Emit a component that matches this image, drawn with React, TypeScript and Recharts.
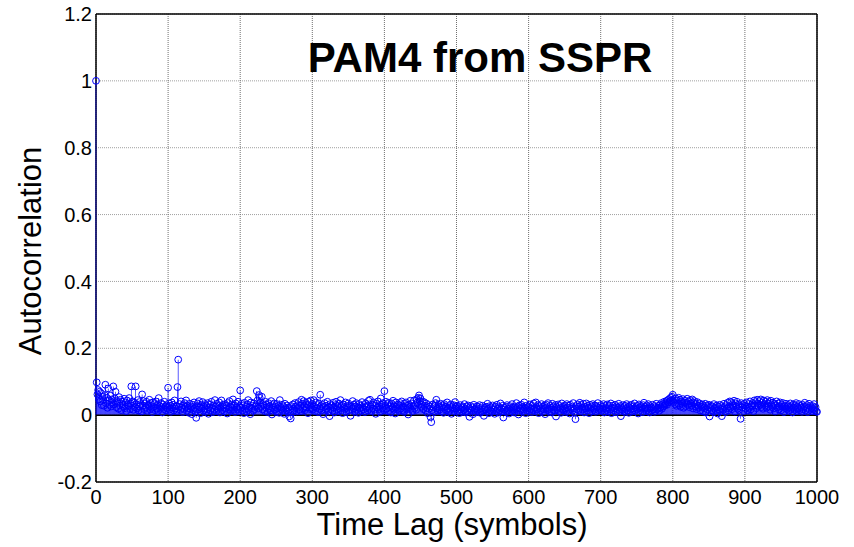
import React from "react";
import {
  ComposedChart,
  Bar,
  Scatter,
  XAxis,
  YAxis,
  CartesianGrid,
  ReferenceLine,
  Customized,
} from "recharts";

// Autocorrelation values in thousandths, 100 lags per block (last block holds 101)
const lags000 = [
  1000, 98, 62, 75, 48, 70, 41, 66, 30, 55,
  45, 28, 60, 91, 35, 52, 22, 80, 44, 31,
  58, 26, 47, 38, 86, 33, 50, 70, 24, 42,
  36, 19, 54, 29, 46, 15, 40, 33, 25, 49,
  21, 38, 12, 44, 30, 27, 51, 18, 35, 86,
  28, 41, 16, 37, 24, 86, 32, 20, 45, 14,
  39, 26, 33, 11, 62, 29, 42, 18, 35, 23,
  40, 13, 31, 27, 46, 17, 36, 22, 9, 38,
  25, 33, 15, 41, 20, 30, 12, 51, 27, 19,
  36, 24, 8, 32, 18, 40, 26, 14, 29, 21,
];
const lags100 = [
  82, 35, 17, 28, 10, 38, 23, 31, 14, 44,
  20, 27, 12, 84, 166, 25, 33, 16, 41, 22,
  9, 30, 19, 36, 24, 44, 13, 28, 21, 7,
  34, 18, 26, 3, 31, 15, 38, 22, 11, -8,
  27, 35, 17, 42, 24, 6, 30, 20, 39, 13,
  25, 33, 10, 28, 18, 36, 4, 23, 31, 14,
  40, 21, 9, 29, 17, 45, 26, 12, 34, 19,
  27, 38, 8, 22, 44, 15, 30, 24, 11, 33,
  20, 28, 5, 36, 17, 42, 25, 13, 31, 22,
  47, 16, 29, 9, 35, 24, 18, 40, 12, 27,
];
const lags200 = [
  74, 22, 34, 14, 29, 6, 37, 19, 26, 11,
  32, 45, 16, 24, 3, 38, 21, 28, 13, 35,
  18, 26, 30, 72, 44, 20, 60, 52, 38, 25,
  55, 17, 33, 29, 12, 40, 23, 31, 9, 36,
  19, 27, 14, 42, 2, 30, 22, 35, 16, 25,
  11, 33, 20, 28, 7, 45, 24, 18, 31, 13,
  26, 4, 34, 21, 15, 29, 10, 23, -4, 18,
  -10, 27, 8, 32, 19, 14, 36, 25, 11, 29,
  22, 39, 16, 28, 12, 46, 34, 20, 42, 26,
  15, 37, 23, 31, 6, 40, 28, 18, 44, 21,
];
const lags300 = [
  33, 17, 45, 26, 12, 38, 22, 30, 9, 35,
  19, 61, 27, 14, 31, 3, 24, 36, 16, 28,
  20, 40, 11, 25, -3, 33, 18, 29, 13, 37,
  23, 8, 30, 40, 17, 26, 12, 34, 21, 45,
  15, 28, 6, 32, 24, 19, 38, 10, 27, 22,
  35, 14, 29, -2, 25, 18, 42, 21, 31, 11,
  26, 36, 16, 23, 7, 33, 20, 28, 13, 39,
  24, 17, 30, 9, 35, 22, 27, 14, 43, 19,
  46, 25, 12, 32, 20, 38, 16, 29, 4, 34,
  23, 41, 18, 27, 10, 50, 31, 21, 36, 15,
];
const lags400 = [
  72, 28, 40, 19, 33, 12, 37, 24, 30, 8,
  35, 21, 43, 16, 27, 5, 38, 25, 18, 32,
  13, 29, 36, 20, 41, 15, 26, 10, 34, 22,
  38, 17, 28, 2, 31, 24, 43, 19, 35, 12,
  27, 44, 21, 30, 16, 48, 38, 52, 59, 42,
  50, 33, 25, 40, 18, 39, 28, 14, 35, 22,
  6, 30, 19, 26, -6, -21, 15, 32, 24, 9,
  28, 36, 46, 20, 13, 31, 25, 17, 34, 11,
  23, 29, 7, 33, 18, 26, 14, 38, 21, 10,
  27, 16, 32, 4, 24, 19, 30, 12, 39, 25,
];
const lags500 = [
  20, 28, 13, 24, 6, 30, 17, 22, 10, 26,
  15, 33, 19, 8, 25, 12, 29, 21, -5, 18,
  27, 14, 23, 3, 31, 16, 20, 9, 26, 13,
  24, 18, 30, 7, 21, 11, 28, 15, -2, 22,
  17, 25, 12, 34, 19, 6, 27, 14, 23, 10,
  29, 16, 21, 4, 26, 13, 31, 18, 8, 24,
  15, 35, 20, 11, 28, -7, 22, 17, 25, 9,
  30, 14, 19, 5, 27, 21, 12, 33, 16, 23,
  8, 26, 18, 36, 13, 24, 2, 29, 20, 15,
  31, 11, 25, 17, 38, 22, 6, 28, 14, 21,
];
const lags600 = [
  26, 13, 32, 19, 9, 28, 16, 35, 21, 12,
  38, 24, 17, 30, 6, 27, 20, 14, 33, 10,
  25, 18, 29, 3, 23, 31, 15, 36, 19, 11,
  28, 22, 8, 34, 16, 26, 13, 30, -4, 24,
  18, 32, 12, 27, 21, 7, 35, 17, 25, 14,
  29, 20, 10, 33, 23, 16, 28, 5, 31, 19,
  24, 13, 36, 21, 9, -12, 27, 18, 32, 15,
  26, 37, 11, 30, 22, 17, 34, 8, 25, 20,
  35, 14, 28, 23, 6, 31, 19, 26, 12, 33,
  21, 16, 29, 10, 27, 24, 36, 15, 22, 18,
];
const lags700 = [
  30, 13, 25, 19, 33, 8, 27, 21, 16, 32,
  11, 24, 29, 17, 35, 6, 22, 28, 14, 20,
  31, 9, 26, 18, 23, 34, 12, 27, -3, 21,
  16, 30, 24, 10, 28, 19, 33, 14, 25, 7,
  22, 29, 17, 31, 11, 26, 20, 35, 13, 24,
  18, 28, 5, 32, 21, 15, 27, 23, 9, 30,
  37, 19, 25, 12, 29, 16, 33, 20, 8, 26,
  22, 14, 31, 18, 27, 10, 24, 34, 17, 21,
  28, 13, 30, 23, 36, 19, 32, 26, 40, 29,
  35, 42, 31, 45, 38, 48, 41, 52, 44, 55,
];
const lags800 = [
  61, 39, 47, 33, 50, 28, 44, 36, 52, 30,
  46, 25, 41, 34, 48, 22, 38, 43, 27, 36,
  49, 31, 40, 24, 45, 35, 29, 47, 20, 37,
  42, 26, 33, 18, 39, 28, 23, 35, 14, 30,
  25, 32, 11, 27, 21, 34, 8, 29, 17, 24,
  31, -4, 22, 28, 15, 26, 10, 33, 19, 23,
  13, 29, 5, 25, 18, 31, 12, 27, -3, 21,
  16, 34, 24, 9, 30, 20, 37, 14, 26, 41,
  22, 39, 18, 33, 28, 43, 11, 35, 25, 40,
  19, 31, 15, 27, -11, 36, 23, 30, 12, 34,
];
const lags900 = [
  28, 20, 38, 25, 14, 33, 22, 41, 17, 30,
  26, 36, 12, 44, 29, 39, 21, 46, 34, 27,
  42, 31, 47, 24, 38, 19, 44, 33, 28, 40,
  22, 45, 35, 26, 39, 16, 43, 30, 24, 37,
  20, 33, 11, 29, 41, 23, 35, 17, 27, 38,
  14, 31, 25, 36, 9, 28, 21, 34, 18, 26,
  30, 13, 24, 35, 19, 27, 8, 32, 22, 16,
  29, 36, 12, 25, 20, 33, 15, 28, 23, 10,
  31, 18, 26, 37, 14, 24, 30, 9, 21, 34,
  16, 28, 22, 12, 27, 19, 33, 15, 24, 11,
  10,
];

const blocks = [lags000, lags100, lags200, lags300, lags400, lags500, lags600, lags700, lags800, lags900];
const BLOCK = 100;
const MILLI = 1000;

const xTicks = [0, 100, 200, 300, 400, 500, 600, 700, 800, 900, 1000];
const yTicks = [-0.2, 0, 0.2, 0.4, 0.6, 0.8, 1, 1.2];
const xDomain: [number, number] = [0, 1000];
const yDomain: [number, number] = [-0.2, 1.2];

const TITLE = "PAM4 from SSPR";
const X_LABEL = "Time Lag (symbols)";
const Y_LABEL = "Autocorrelation";

const data = blocks.flatMap((blk, b) =>
  blk.map((v, i) => ({ lag: b * BLOCK + i, r: v / MILLI }))
);

const FONT = "'Liberation Sans', Arial, sans-serif";
const BLUE = "#0000ff";

const Marker = (p: any) =>
  p.cx == null || p.cy == null ? null : (
    <circle cx={p.cx} cy={p.cy} r={3.4} fill="none" stroke={BLUE} strokeWidth={1} />
  );

const Texts = () => (
  <g fontFamily={FONT} fill="#000">
    <text x={480} y={72} textAnchor="middle" fontSize={42} fontWeight="bold">
      {TITLE}
    </text>
    <text x={452} y={535} textAnchor="middle" fontSize={31}>
      {X_LABEL}
    </text>
    <text x={41} y={251} textAnchor="middle" fontSize={31} transform="rotate(-90 41 251)">
      {Y_LABEL}
    </text>
  </g>
);

const innerTick = { stroke: "#000", strokeWidth: 1 };

export default function App() {
  return (
    <div style={{ position: "absolute", left: 0, top: 0, width: 854, height: 547, background: "#fff" }}>
      <ComposedChart
        width={854}
        height={547}
        data={data}
        margin={{ top: 14, right: 37, bottom: 35, left: 0 }}
      >
        <CartesianGrid stroke="#a0a0a0" strokeDasharray="1 1" vertical={false} />
        <CartesianGrid stroke="#707070" strokeDasharray="1 1" horizontal={false} />
        {/* box frame drawn as grid lines at the domain edges so the data sits above it */}
        <CartesianGrid
          xAxisId="edgeX"
          yAxisId="edgeY"
          stroke="#000"
          strokeWidth={1.5}
        />
        <XAxis
          dataKey="lag"
          type="number"
          domain={xDomain}
          ticks={xTicks}
          interval={0}
          height={30}
          tickLine={false}
          axisLine={false}
          tick={{ fill: "#000", fontSize: 20, fontFamily: FONT }}
        />
        <XAxis
          xAxisId="edgeX"
          orientation="bottom"
          mirror
          dataKey="lag"
          type="number"
          domain={xDomain}
          ticks={[0, 1000]}
          height={0}
          tick={false}
          tickLine={false}
          axisLine={false}
        />
        <YAxis
          yAxisId="edgeY"
          orientation="left"
          mirror
          type="number"
          domain={yDomain}
          ticks={[-0.2, 1.2]}
          width={0}
          tick={false}
          tickLine={false}
          axisLine={false}
        />
        <XAxis
          xAxisId="bottomTicks"
          orientation="bottom"
          mirror
          dataKey="lag"
          type="number"
          domain={xDomain}
          ticks={xTicks}
          height={0}
          tick={false}
          tickSize={5}
          tickLine={innerTick}
          axisLine={false}
        />
        <XAxis
          xAxisId="top"
          orientation="top"
          mirror
          dataKey="lag"
          type="number"
          domain={xDomain}
          ticks={xTicks}
          height={0}
          tick={false}
          tickSize={5}
          tickLine={innerTick}
          axisLine={false}
        />
        <YAxis
          type="number"
          domain={yDomain}
          ticks={yTicks}
          interval={0}
          width={96}
          tickLine={false}
          tickSize={2}
          tickMargin={2}
          axisLine={false}
          tick={{ fill: "#000", fontSize: 20, fontFamily: FONT }}
        />
        <YAxis
          yAxisId="leftTicks"
          orientation="left"
          mirror
          type="number"
          domain={yDomain}
          ticks={yTicks}
          width={0}
          tick={false}
          tickSize={5}
          tickLine={innerTick}
          axisLine={false}
        />
        <YAxis
          yAxisId="right"
          orientation="right"
          mirror
          type="number"
          domain={yDomain}
          ticks={yTicks}
          width={0}
          tick={false}
          tickSize={5}
          tickLine={innerTick}
          axisLine={false}
        />
        <ReferenceLine y={0} stroke="#000" strokeWidth={1.5} />
        <Bar dataKey="r" barSize={1} fill={BLUE} isAnimationActive={false} />
        <Scatter dataKey="r" shape={Marker} isAnimationActive={false} />
        <Customized component={Texts} />
      </ComposedChart>
    </div>
  );
}
